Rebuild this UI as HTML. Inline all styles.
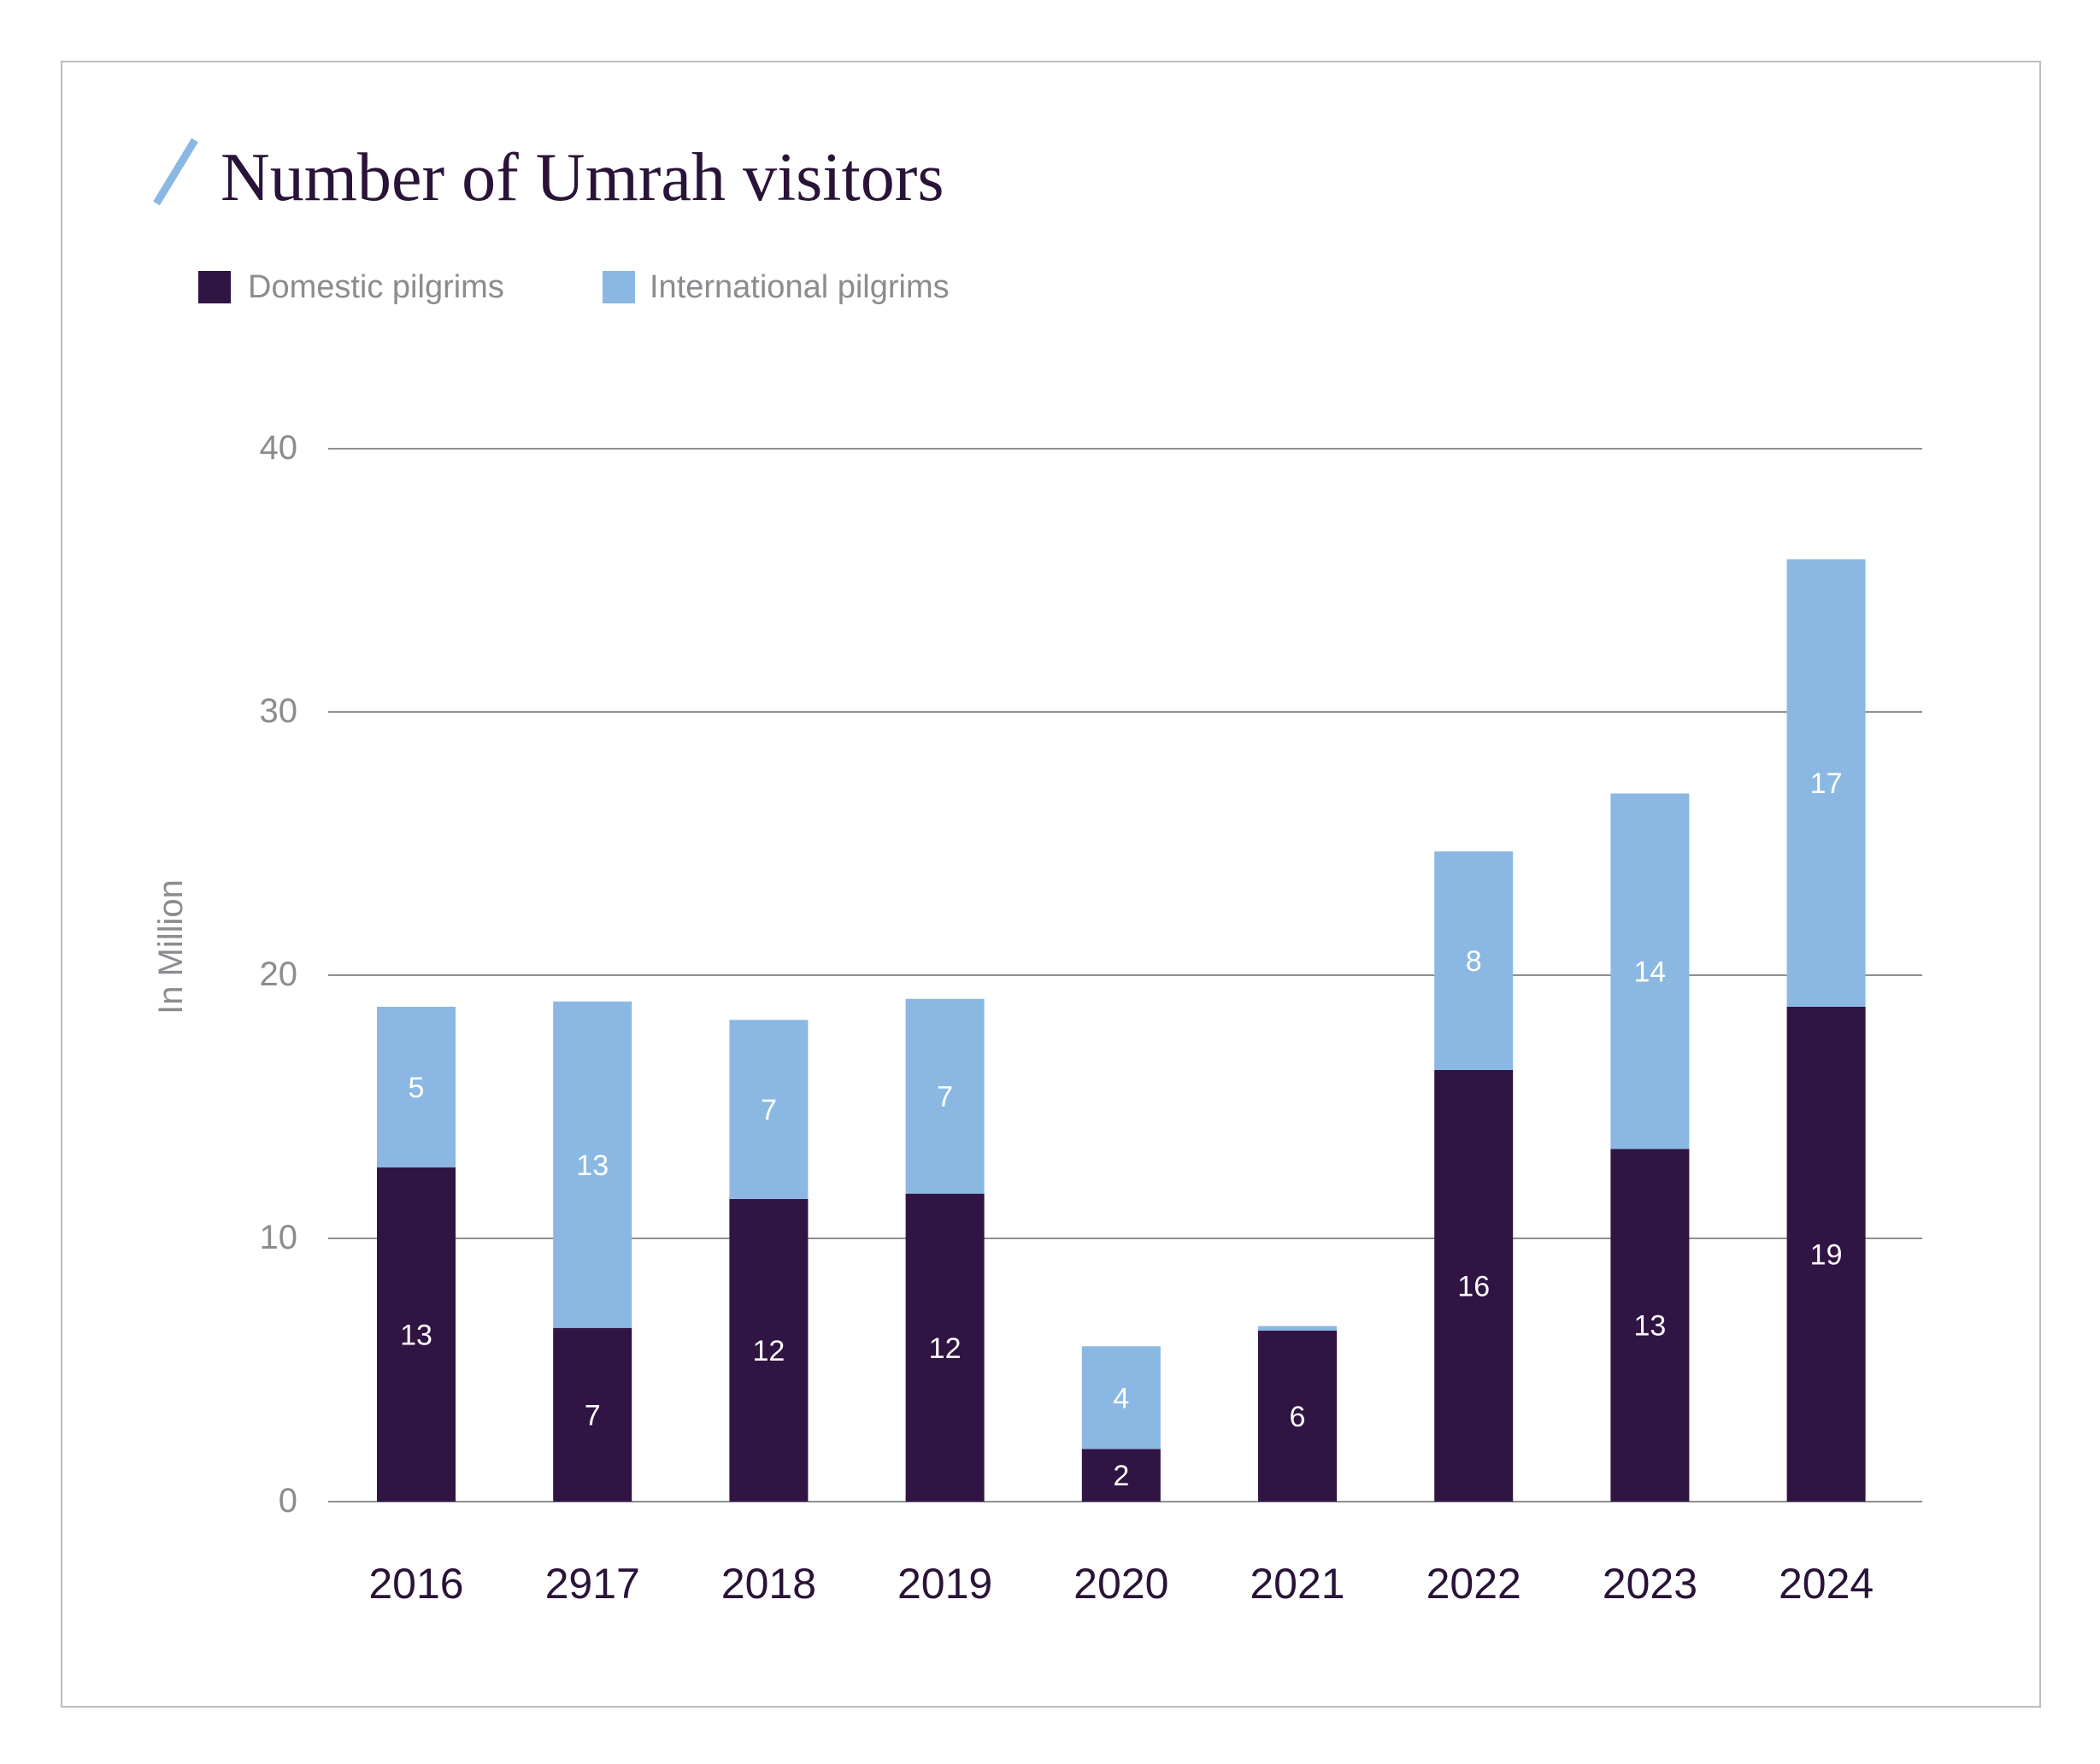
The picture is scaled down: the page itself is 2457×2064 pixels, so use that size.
<!DOCTYPE html>
<html><head><meta charset="utf-8"><style>
html,body{margin:0;padding:0;background:#fff;}
body{width:2457px;height:2064px;position:relative;overflow:hidden;}
</style></head><body>
<svg id="chart" width="2457" height="2064" xmlns="http://www.w3.org/2000/svg" style="position:absolute;left:0;top:0">
<rect x="72" y="72" width="2315" height="1925" fill="#fff" stroke="#bdbdbd" stroke-width="2"/>
<line x1="183" y1="238" x2="228" y2="164" stroke="#8ab8e2" stroke-width="9"/>
<text x="258" y="234" font-family="Liberation Serif, serif" font-size="80" fill="#2a1338">Number of Umrah visitors</text>
<rect x="232" y="317" width="38" height="38" fill="#301443"/>
<text x="290" y="348" font-family="Liberation Sans, sans-serif" font-size="38" fill="#8a8c8f">Domestic pilgrims</text>
<rect x="705" y="317" width="38" height="38" fill="#8ab8e2"/>
<text x="760" y="348" font-family="Liberation Sans, sans-serif" font-size="38" fill="#8a8c8f">International pilgrims</text>
<text transform="translate(213,1108) rotate(-90)" text-anchor="middle" font-family="Liberation Sans, sans-serif" font-size="40" fill="#8a8c8f">In Million</text>
<g id="grid"></g><g id="bars"></g><g id="labels"></g>
</svg>
<script>
const categories = ["2016","2917","2018","2019","2020","2021","2022","2023","2024"];
const domestic = [12.7, 6.6, 11.5, 11.7, 2.0, 6.5, 16.4, 13.4, 18.8];
const international = [6.1, 12.4, 6.8, 7.4, 3.9, 0.17, 8.3, 13.5, 17.0];
const domesticLabels = ["13","7","12","12","2","6","16","13","19"];
const internationalLabels = ["5","13","7","7","4","","8","14","17"];
const yTicks = [0,10,20,30,40];

const NS = "http://www.w3.org/2000/svg";
const y0 = 1757, y40 = 525, xL = 384, xR = 2249;
const yScale = v => y0 - (v/40)*(y0-y40);
const xCenter = i => 487 + i*206.2;
const barW = 92;
function mk(tag, attrs){const e=document.createElementNS(NS,tag);for(const k in attrs)e.setAttribute(k,attrs[k]);return e;}
const grid=document.getElementById('grid'), bars=document.getElementById('bars'), labels=document.getElementById('labels');
yTicks.forEach(t=>{
  const l=mk('line',{x1:xL,x2:xR,y1:yScale(t),y2:yScale(t),stroke:'#8f8f8f','stroke-width':2});
  
  
  grid.appendChild(l);
  const tx=mk('text',{x:348,y:yScale(t)+12,'text-anchor':'end','font-family':'Liberation Sans, sans-serif','font-size':40,fill:'#8a8c8f'});
  tx.textContent=t;
  
  
  grid.appendChild(tx);
});
categories.forEach((c,i)=>{
  const cx=xCenter(i), d=domestic[i], n=international[i];
  const rd=mk('rect',{x:cx-barW/2,y:yScale(d),width:barW,height:yScale(0)-yScale(d),fill:'#301443'});
  
  
  bars.appendChild(rd);
  const ri=mk('rect',{x:cx-barW/2,y:yScale(d+n),width:barW,height:yScale(d)-yScale(d+n),fill:'#8ab8e2'});
  
  
  bars.appendChild(ri);
  const ld=mk('text',{x:cx,y:yScale(d/2)+12,'text-anchor':'middle','font-family':'Liberation Sans, sans-serif','font-size':34,fill:'#fff'});
  ld.textContent=domesticLabels[i];
  
  
  labels.appendChild(ld);
  if(internationalLabels[i]){
    const li=mk('text',{x:cx,y:yScale(d+n/2)+12,'text-anchor':'middle','font-family':'Liberation Sans, sans-serif','font-size':34,fill:'#fff'});
    li.textContent=internationalLabels[i];
    
    
    labels.appendChild(li);
  }
  const xl=mk('text',{x:cx,y:1870,'text-anchor':'middle','font-family':'Liberation Sans, sans-serif','font-size':50,fill:'#2a1338'});
  xl.textContent=c;
  
  
  labels.appendChild(xl);
});
</script>
</body></html>
